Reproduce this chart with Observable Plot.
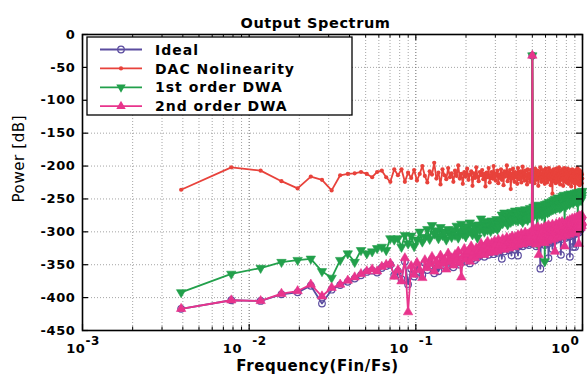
<!DOCTYPE html>
<html><head><meta charset="utf-8">
<script src="https://cdn.jsdelivr.net/npm/d3@7"></script>
<script src="https://cdn.jsdelivr.net/npm/@observablehq/plot@0.6"></script>
<style>
body{margin:0;background:#fff;}
#chart svg{background:#fff;}
</style></head><body><div id="chart"></div>
<script>
// ---- data ----
const N = 256;            // FFT bins: frequency = k / N
const toneBin = 128;      // input tone bin (Fin/Fs = 0.5)
const seriesNames = ["Ideal", "DAC Nolinearity", "1st order DWA", "2nd order DWA"];
const seriesColors = ["#5b4c9f", "#e8423b", "#22a04b", "#e8348c"];
const toneLevels = [-32, -32, -32, -32];

const idealLow = [-417,-404,-405,-395,-392,-382,-409,-388,-381,-376,-371,-366,-361,-359,-362,-355,-352,-350,-366,-360,-372,-345,
-380,-356,-368,-351,-361,-366,-347,-358,-352,-342,-363,-355,-360,-341,-351,-346,-354,-338,-349,-344,
-354,-339,-347,-334,-350,-345,-341,-330,-345,-337,-333,-348,-326,-340,-335,-343,-329,-339,-332,-336,
-322,-333,-328,-338,-324,-330,-319,-335,-326,-331,-321,-328,-334,-318,-326,-323,-332,-316,-324,-329,
-320,-341,-315,-323,-330,-317,-321,-313,-325,-319,-328,-314,-320,-336,-311,-322,-317,-326,-312,-319,
-316,-323,-336,-317,-321,-312,-318,-307,-314,-322,-310,-316,-313,-305,-319,-311,-315,-308,-313,-320,-306,-311,-317,-304,-309];
const idealHigh = [-302,-313,-306,-318,-300,-310,-322,-304,-312,-297,-315,-308,-302,-319,-356,-311,-299,-316,-307,-303,
-314,-298,-309,-320,-304,-296,-312,-307,-317,-301,-308,-340,-313,-303,-310,-297,-315,-305,-300,-311,
-326,-307,-302,-314,-296,-305,-310,-299,-303,-292,-312,-301,-306,-295,-309,-298,-302,-290,-308,-300,
-304,-335,-300,-311,-289,-302,-297,-307,-292,-305,-299,-287,-303,-295,-309,-291,-300,-296,-306,-288,
-298,-303,-290,-301,-294,-307,-338,-299,-293,-304,-289,-296,-302,-284,-300,-292,-323,-305,-287,-294,
-299,-283,-323,-290,-303,-288,-294,-298,-282,-292,-300,-287,-293,-290,-301,-280,-291,-296,-285,-290,-297,-281,-292,-288,-294,-279,-289];

const dacLow = [-236,-202,-207,-223,-234,-216,-221,-237,-214,-212,-211,-209,-212,-217,-209,-207,-217,-224,-205,-214,-205,-224,
-210,-218,-206,-222,-212,-200,-215,-225,-208,-213,-195,-219,-210,-228,-205,-214,-220,-203,-217,-211,
-224,-207,-215,-199,-219,-212,-227,-209,-216,-204,-221,-213,-208,-230,-211,-218,-202,-216,-223,-209,
-214,-206,-220,-212,-231,-210,-217,-203,-225,-214,-209,-219,-200,-216,-222,-211,-207,-226,-213,-218,
-205,-221,-212,-229,-208,-216,-214,-199,-223,-210,-218,-206,-235,-212,-219,-204,-215,-224,-209,-217,
-211,-227,-203,-216,-220,-212,-208,-225,-214,-201,-218,-210,-222,-207,-216,-213,-228,-205,-219,-211,-215,-224,-206,-217,-212];
const dacHigh = [-220,-209,-216,-226,-204,-214,-221,-210,-218,-207,-230,-213,-209,-219,-202,-215,-224,-211,-217,-206,
-222,-213,-209,-227,-215,-204,-219,-212,-225,-208,-216,-221,-203,-214,-218,-210,-229,-207,-215,-220,
-242,-211,-217,-205,-223,-213,-209,-218,-226,-204,-215,-220,-211,-207,-224,-214,-202,-219,-212,-228,
-208,-216,-221,-210,-205,-218,-214,-230,-209,-217,-203,-222,-213,-219,-207,-225,-212,-216,-210,-221,
-204,-218,-227,-211,-215,-208,-222,-213,-206,-219,-231,-210,-216,-205,-223,-214,-209,-220,-212,-226,
-207,-217,-255,-211,-221,-206,-215,-224,-210,-218,-203,-227,-213,-209,-220,-214,-206,-229,-212,-218,-208,-223,-215,-210,-226,-213,-219];

const dwa1Low = [-392,-364,-355,-346,-343,-341,-360,-370,-343,-333,-346,-328,-333,-330,-325,-323,-328,-310,-312,-310,-323,-305,
-318,-306,-322,-312,-300,-315,-308,-296,-311,-290,-303,-298,-310,-293,-305,-300,-312,-296,-302,-308,
-297,-305,-291,-309,-299,-288,-303,-295,-307,-292,-300,-286,-298,-304,-290,-301,-295,-309,-289,-297,
-280,-294,-289,-300,-284,-292,-297,-286,-291,-299,-283,-290,-295,-285,-293,-281,-296,-288,-292,-284,
-282,-274,-287,-278,-271,-284,-280,-275,-289,-273,-281,-277,-285,-270,-279,-283,-274,-280,-268,-282,
-276,-271,-283,-275,-279,-267,-281,-273,-277,-285,-270,-278,-274,-266,-280,-272,-276,-282,-269,-275,-278,-264,-273,-279,-271];
const dwa1High = [-270,-262,-275,-266,-272,-260,-268,-274,-318,-271,-267,-259,-273,-265,-270,-261,-268,-275,-264,-269,
-262,-272,-266,-345,-258,-270,-264,-268,-257,-271,-263,-266,-255,-269,-261,-265,-259,-267,-254,-263,
-260,-266,-252,-264,-258,-262,-250,-265,-256,-261,-253,-263,-257,-248,-262,-255,-259,-251,-264,-254,
-257,-249,-262,-253,-258,-246,-260,-252,-256,-244,-259,-290,-255,-248,-261,-250,-254,-245,-258,-252,
-249,-256,-243,-254,-250,-258,-246,-252,-248,-255,-242,-251,-247,-253,-245,-250,-256,-244,-249,-252,
-246,-241,-252,-248,-243,-250,-245,-254,-240,-247,-251,-285,-249,-242,-248,-253,-245,-239,-247,-250,-243,-246,-252,-241,-248,-244,-238];

const dwa2Low = [-417,-404,-405,-394,-390,-380,-398,-385,-380,-374,-369,-364,-360,-357,-360,-353,-350,-348,-368,-358,-375,-340,
-422,-352,-365,-347,-358,-370,-343,-355,-349,-338,-360,-345,-352,-336,-348,-342,-357,-333,-346,-340,
-351,-335,-344,-330,-347,-369,-338,-326,-342,-334,-329,-345,-322,-337,-331,-340,-325,-336,-328,-333,
-318,-330,-324,-335,-320,-327,-315,-332,-322,-328,-317,-325,-331,-314,-323,-319,-329,-312,-321,-326,
-316,-324,-311,-320,-327,-313,-318,-309,-322,-315,-325,-310,-317,-321,-307,-319,-313,-323,-308,-316,
-312,-320,-305,-314,-318,-308,-315,-303,-311,-319,-306,-313,-309,-301,-316,-307,-312,-304,-310,-317,-302,-308,-314,-300,-306];
const dwa2High = [-298,-310,-302,-315,-296,-307,-319,-300,-309,-293,-312,-335,-298,-316,-301,-308,-295,-313,-303,-299,
-311,-294,-306,-317,-300,-292,-309,-303,-314,-297,-305,-290,-310,-299,-307,-293,-312,-301,-296,-308,
-289,-304,-298,-311,-292,-302,-330,-295,-300,-288,-309,-297,-303,-291,-306,-294,-299,-286,-305,-296,
-301,-290,-297,-308,-285,-299,-293,-304,-288,-302,-296,-322,-300,-291,-306,-287,-297,-292,-303,-284,
-295,-300,-286,-298,-290,-304,-282,-296,-289,-301,-285,-293,-299,-280,-297,-288,-294,-302,-283,-291,
-296,-279,-292,-287,-300,-284,-291,-295,-278,-289,-297,-283,-290,-286,-318,-276,-288,-293,-281,-287,-294,-277,-289,-284,-291,-275,-286];

const yTicks = [0,-50,-100,-150,-200,-250,-300,-350,-400,-450];
const xTickExps = [-3,-2,-1,0];
const xMajor = [0.001, 0.01, 0.1, 1];
const xMinor = [0.002,0.003,0.004,0.005,0.006,0.007,0.008,0.009,
                0.02,0.03,0.04,0.05,0.06,0.07,0.08,0.09,
                0.2,0.3,0.4,0.5,0.6,0.7,0.8,0.9];
const titleText = "Output Spectrum";
const xLabel = "Frequency(Fin/Fs)";
const yLabel = "Power [dB]";

// ---- build ----
const rows = (name, low, high, tone) => [
  ...low.map((v, i) => ({name, f: (i + 1) / N, v})),
  {name, f: toneBin / N, v: tone},
  ...high.map((v, i) => ({name, f: (toneBin + 1 + i) / N, v}))
];
const lows = [idealLow, dacLow, dwa1Low, dwa2Low];
const highs = [idealHigh, dacHigh, dwa1High, dwa2High];
const series = seriesNames.map((name, i) => ({
  name, color: seriesColors[i], data: rows(name, lows[i], highs[i], toneLevels[i])
}));

const sqrt3 = Math.sqrt(3);
const triDown = {draw(ctx, size) {
  const y = -Math.sqrt(size / (sqrt3 * 3));
  ctx.moveTo(0, -y * 2); ctx.lineTo(-sqrt3 * y, y); ctx.lineTo(sqrt3 * y, y); ctx.closePath();
}};

const W = 587, H = 374, mL = 82, mR = 5, mT = 34, mB = 44;
const pw = W - mL - mR, ph = H - mT - mB;
const font = "DejaVu Sans";
const triR = 3.5, circR = 3.3, dotR = 2.1;

function markerMarks(s, i) {
  const base = {x: "f", y: "v"};
  if (i === 0) return Plot.dot(s.data, {...base, r: circR, stroke: s.color, fill: "none", strokeWidth: 1.2});
  if (i === 1) return Plot.dot(s.data, {...base, r: dotR, fill: s.color});
  if (i === 2) return Plot.dot(s.data, {...base, symbol: triDown, r: triR, fill: s.color, stroke: s.color, strokeWidth: 0.6});
  return Plot.dot(s.data, {...base, symbol: "triangle", r: triR, fill: s.color, stroke: s.color, strokeWidth: 0.6});
}

const labelShift10 = [10, 0, 0, -5];
const labelShiftExp = [0, 0, 0, -15];

const xLabelMarks = xTickExps.flatMap((e, i) => [
  Plot.text([e], {x: d => 10 ** d, frameAnchor: "bottom", text: () => "10", textAnchor: "end",
    lineAnchor: "bottom", dx: -7 + labelShift10[i], dy: 22, fontSize: 13, fontWeight: "bold", fontFamily: font}),
  Plot.text([e], {x: d => 10 ** d, frameAnchor: "bottom", text: d => String(d), textAnchor: "start",
    lineAnchor: "bottom", dx: 3 + labelShiftExp[i], dy: 14, fontSize: 12, fontWeight: "bold", fontFamily: font})
]);

const chart = Plot.plot({
  width: W, height: H,
  marginLeft: mL, marginRight: mR, marginTop: mT, marginBottom: mB,
  style: {fontFamily: font, letterSpacing: "0.6px", background: "#fff"},
  x: {type: "log", domain: [0.001, 1], axis: null},
  y: {domain: [-450, 0], axis: null},
  marks: [
    Plot.ruleY(yTicks, {y: d => d, stroke: "#9a9a9a", strokeDasharray: "1,2", strokeWidth: 0.9}),
    Plot.ruleX(xMinor, {x: d => d, stroke: "#9a9a9a", strokeDasharray: "1,2", strokeWidth: 0.9}),
    Plot.ruleX(xMajor, {x: d => d, stroke: "#555", strokeDasharray: "1,2", strokeWidth: 0.9}),
    ...series.flatMap((s, i) => [
      Plot.line(s.data, {x: "f", y: "v", stroke: s.color, strokeWidth: 1.8}),
      markerMarks(s, i)
    ]),
    // inward ticks (MATLAB style)
    Plot.tickX(xMajor, {x: d => d, insetTop: ph - 6, stroke: "#000", strokeWidth: 1.2}),
    Plot.tickX(xMajor, {x: d => d, insetBottom: ph - 6, stroke: "#000", strokeWidth: 1.2}),
    Plot.tickX(xMinor, {x: d => d, insetTop: ph - 3.5, stroke: "#000"}),
    Plot.tickX(xMinor, {x: d => d, insetBottom: ph - 3.5, stroke: "#000"}),
    Plot.tickY(yTicks, {y: d => d, insetRight: pw - 6, stroke: "#000", strokeWidth: 1.2}),
    Plot.tickY(yTicks, {y: d => d, insetLeft: pw - 6, stroke: "#000", strokeWidth: 1.2}),
    Plot.frame({stroke: "#000", strokeWidth: 1.6}),
    Plot.text(yTicks, {y: d => d, frameAnchor: "left", text: d => String(d), textAnchor: "end", dx: -7,
      fontSize: 13, fontWeight: "bold", fontFamily: font}),
    ...xLabelMarks,
    Plot.text([titleText], {frameAnchor: "top", text: d => d, lineAnchor: "bottom", dy: -7, dx: -17,
      fontSize: 14.5, fontWeight: "bold", fontFamily: font}),
    Plot.text([xLabel], {frameAnchor: "bottom", text: d => d, lineAnchor: "bottom", dy: 40, dx: -15,
      fontSize: 15, fontWeight: "bold", fontFamily: font}),
    Plot.text([yLabel], {frameAnchor: "left", text: d => d, rotate: -90, dx: -63, dy: 20,
      fontSize: 15, fontFamily: font})
  ]
});

// legend box inside the axes (MATLAB style)
const lg = d3.select(chart).append("g")
  .attr("font-family", font).attr("font-weight", "bold").attr("font-size", 14)
  .attr("text-anchor", "start");
lg.append("rect").attr("x", 87).attr("y", 37).attr("width", 265).attr("height", 78)
  .attr("fill", "#fff").attr("stroke", "#000").attr("stroke-width", 1.3);
const legendSymbols = [d3.symbolCircle, d3.symbolCircle, triDown, d3.symbolTriangle];
series.forEach((s, i) => {
  const cy = 49.5 + i * 18.9;
  lg.append("line").attr("x1", 100).attr("x2", 142).attr("y1", cy).attr("y2", cy)
    .attr("stroke", s.color).attr("stroke-width", 1.8);
  const r = i === 0 ? circR : i === 1 ? dotR : triR;
  const p = lg.append("path").attr("d", d3.symbol(legendSymbols[i], Math.PI * r * r)())
    .attr("transform", `translate(121,${cy})`);
  if (i === 0) p.attr("fill", "none").attr("stroke", s.color).attr("stroke-width", 1.2);
  else p.attr("fill", s.color);
  lg.append("text").attr("x", 155).attr("y", cy).attr("dy", "0.37em")
    .attr("text-anchor", "start").attr("letter-spacing", "1px").attr("fill", "#000").text(s.name);
});

document.getElementById("chart").appendChild(chart);
</script>
</body></html>
